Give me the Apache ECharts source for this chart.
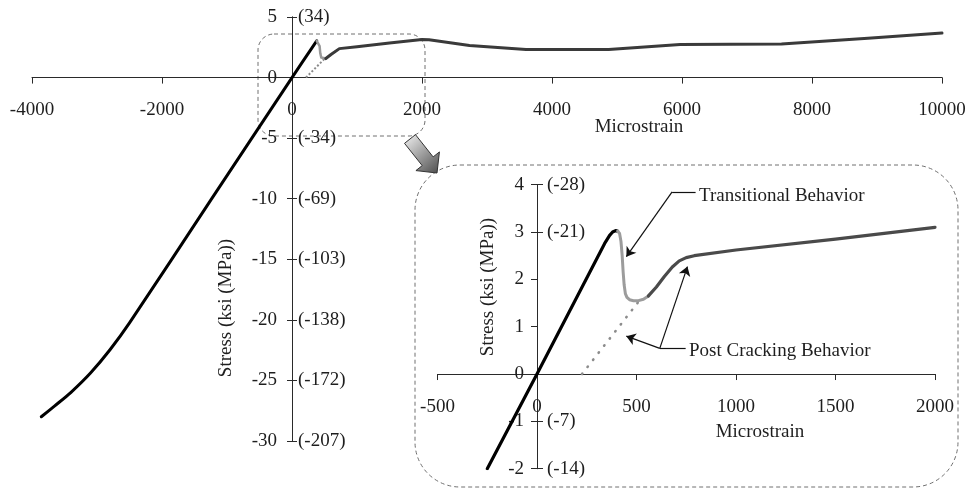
<!DOCTYPE html>
<html><head><meta charset="utf-8">
<script src="https://cdn.jsdelivr.net/npm/echarts@6/dist/echarts.min.js"></script>
<style>html,body{margin:0;padding:0;background:#fff}#c{width:970px;height:490px}</style>
</head><body><div id="c"></div>
<script>
// ---------- data (microstrain, ksi) ----------
const mainElastic = [[-3857,-28.0],[-3650,-27.1],[-3400,-25.98],[-3100,-24.39],[-2800,-22.47],[-2500,-20.25],[-1250,-10.12],[0,0],[380,3.03]];
const mainTransitional = [[380,3.03],[405,3.0],[425,2.6],[435,2.0],[450,1.65],[480,1.55],[520,1.57]];
const mainPost = [[520,1.57],[600,1.9],[729,2.39],[1000,2.55],[1500,2.85],[2000,3.15],[2108,3.12],[2731,2.64],[3600,2.32],[4872,2.32],[5971,2.72],[7531,2.78],[8860,3.25],[10000,3.67]];
const mainUnload = [[215,0],[500,1.55]];

const insetElastic = [[-250,-2],[0,0],[340,2.76],[365,2.93],[380,3.0],[395,3.03],[405,3.02]];
const insetTransitional = [[405,3.02],[415,2.97],[422,2.8],[428,2.5],[433,2.15],[438,1.88],[444,1.7],[452,1.62],[465,1.57],[485,1.55],[510,1.55],[535,1.58],[560,1.65]];
const insetPost = [[560,1.65],[600,1.84],[640,2.06],[680,2.26],[715,2.39],[750,2.46],[790,2.5],[1000,2.62],[1500,2.85],[2000,3.1]];
const insetUnload = [[226,0],[516,1.56]];

const mainMPaLabels = {'5':'(34)','-5':'(-34)','-10':'(-69)','-15':'(-103)','-20':'(-138)','-25':'(-172)','-30':'(-207)'};
const insetMPaLabels = {'4':'(-28)','3':'(-21)','-1':'(-7)','-2':'(-14)'};

const FONT = 'Liberation Serif';
const TXT = '#1e1e1e';
const AX = '#2a2a2a';

// grid boxes
const G0 = {left:32, top:17, width:910, height:424};
const G1 = {left:437.5, top:184.7, width:497.5, height:284};
const M = {xmin:-4000, xmax:10000, xint:2000, ymin:-30, ymax:5, yint:5};
const I = {xmin:-500, xmax:2000, xint:500, ymin:-2, ymax:4, yint:1};

// offsets that bring axes to the zero lines (computed from scales)
function zeroX(g, s) { return (0 - s.xmin) / (s.xmax - s.xmin) * g.width; }
function zeroY(g, s) { return (s.ymax - 0) / (s.ymax - s.ymin) * g.height; }

function xAx(grid, g, s) {
  return {type:'value', gridIndex:grid, min:s.xmin, max:s.xmax, interval:s.xint, position:'bottom',
    offset: -(g.height - zeroY(g, s)),
    axisLine:{show:true, onZero:false, lineStyle:{color:AX, width:1}},
    axisTick:{show:true, length:6, lineStyle:{color:AX, width:1}},
    axisLabel:{show:true, margin:23, fontFamily:FONT, fontSize:19, color:TXT, showMinLabel:true, showMaxLabel:true, hideOverlap:false,
      formatter: v => String(v)},
    splitLine:{show:false}};
}
function yAxLeft(grid, g, s, tickLen, margin) {
  return {type:'value', gridIndex:grid, min:s.ymin, max:s.ymax, interval:s.yint, position:'left',
    offset: -zeroX(g, s),
    axisLine:{show:true, onZero:false, lineStyle:{color:AX, width:1}},
    axisTick:{show:true, length:tickLen, lineStyle:{color:AX, width:1}},
    axisLabel:{show:true, margin, fontFamily:FONT, fontSize:19, color:TXT, showMinLabel:true, showMaxLabel:true, hideOverlap:false,
      formatter: v => String(v)},
    splitLine:{show:false}};
}
function yAxRight(grid, g, s, tickLen, margin, map) {
  const vals = Object.keys(map).map(Number);
  return {type:'value', gridIndex:grid, min:s.ymin, max:s.ymax, interval:s.yint, position:'right',
    offset: -(g.width - zeroX(g, s)),
    axisLine:{show:true, onZero:false, lineStyle:{color:AX, width:1}},
    axisTick:{show:true, length:tickLen, customValues:vals, lineStyle:{color:AX, width:1}},
    axisLabel:{show:true, margin, customValues:vals, fontFamily:FONT, fontSize:19, color:TXT, hideOverlap:false,
      formatter: v => map[String(v)] || ''},
    splitLine:{show:false}};
}
function line(xi, yi, data, color, width, extra) {
  return Object.assign({type:'line', xAxisIndex:xi, yAxisIndex:yi, data, showSymbol:false, symbol:'none',
    smooth:false, silent:true, lineStyle:{color, width, cap:'round', join:'round'}}, extra||{});
}

const arrowLines = [
  [{coord:[679,3.85], symbol:'none'},{coord:[449,2.48], symbol:'arrow'}],
  [{coord:[679,3.85], symbol:'none'},{coord:[797,3.85], symbol:'none'}],
  [{coord:[617,0.543], symbol:'none'},{coord:[747,0.543], symbol:'none'}],
  [{coord:[617,0.543], symbol:'none'},{coord:[449,0.80], symbol:'arrow'}],
  [{coord:[617,0.543], symbol:'none'},{coord:[756,2.27], symbol:'arrow'}]
];

function arrowPoly(sx, sy, tx, ty, hw, hhw, hl) {
  const dx = tx - sx, dy = ty - sy, L = Math.hypot(dx, dy);
  const ux = dx / L, uy = dy / L, nx = uy, ny = -ux;
  const bx = tx - hl * ux, by = ty - hl * uy;
  return [[sx + hw*nx, sy + hw*ny],[bx + hw*nx, by + hw*ny],[bx + hhw*nx, by + hhw*ny],[tx, ty],
          [bx - hhw*nx, by - hhw*ny],[bx - hw*nx, by - hw*ny],[sx - hw*nx, sy - hw*ny]];
}

function txt(x, y, text, align, rot) {
  return {type:'text', silent:true, x, y, rotation:rot||0,
    style:{text, font:'19px "Liberation Serif"', fill:TXT, align, verticalAlign:'middle', textAlign:align, textVerticalAlign:'middle'}};
}

const chart = echarts.init(document.getElementById('c'), null, {renderer:'canvas'});
chart.setOption({
  animation:false,
  backgroundColor:'#ffffff',
  grid:[
    Object.assign({containLabel:false, outerBoundsMode:'none'}, G0),
    Object.assign({containLabel:false, outerBoundsMode:'none'}, G1)
  ],
  xAxis:[ xAx(0, G0, M), xAx(1, G1, I) ],
  yAxis:[
    yAxLeft(0, G0, M, 5, 15),
    yAxRight(0, G0, M, 5, 6, mainMPaLabels),
    yAxLeft(1, G1, I, 6, 13),
    yAxRight(1, G1, I, 6, 10, insetMPaLabels)
  ],
  series:[
    line(0, 0, mainElastic, '#000000', 3, {smooth:0.3}),
    line(0, 0, mainUnload, '#8a8a8a', 2, {lineStyle:{color:'#8a8a8a', width:2, type:[2,2]}}),
    line(0, 0, mainTransitional, '#9a9a9a', 2.5),
    line(0, 0, mainPost, '#3a3a3a', 3),
    line(1, 2, insetUnload, '#888888', 2.5, {lineStyle:{color:'#8c8c8c', width:2.6, type:[0.5,8.5], cap:'round'},
      markLine:{silent:true, animation:false, symbol:['none','arrow'], symbolSize:9, label:{show:false},
        lineStyle:{color:'#111', width:1.2, type:'solid'}, emphasis:{disabled:true}, data:arrowLines}}),
    line(1, 2, insetElastic, '#000000', 3.2),
    line(1, 2, insetTransitional, '#9c9c9c', 3),
    line(1, 2, insetPost, '#4a4a4a', 3.2)
  ],
  graphic:[
    {type:'rect', silent:true, shape:{x:258, y:34, width:167, height:102, r:16},
      style:{fill:'none', stroke:'#707070', lineWidth:1, lineDash:[4,3]}},
    {type:'rect', silent:true, shape:{x:415, y:165, width:543, height:322, r:45},
      style:{fill:'none', stroke:'#707070', lineWidth:1, lineDash:[4,3]}},
    {type:'polygon', silent:true, shape:{points:arrowPoly(410,139,437,173,7,15,15)},
      style:{fill:new echarts.graphic.LinearGradient(0,0,1,1,[{offset:0,color:'#f4f4f4'},{offset:1,color:'#4a4a4a'}]), stroke:'#333', lineWidth:1}},
    txt(639, 127, 'Microstrain', 'center'),
    txt(226, 308, 'Stress (ksi (MPa))', 'center', Math.PI/2),
    txt(760, 432, 'Microstrain', 'center'),
    txt(488, 287, 'Stress (ksi (MPa))', 'center', Math.PI/2),
    txt(699, 196, 'Transitional Behavior', 'left'),
    txt(689, 351, 'Post Cracking Behavior', 'left')
  ]
});
</script>
</body></html>
